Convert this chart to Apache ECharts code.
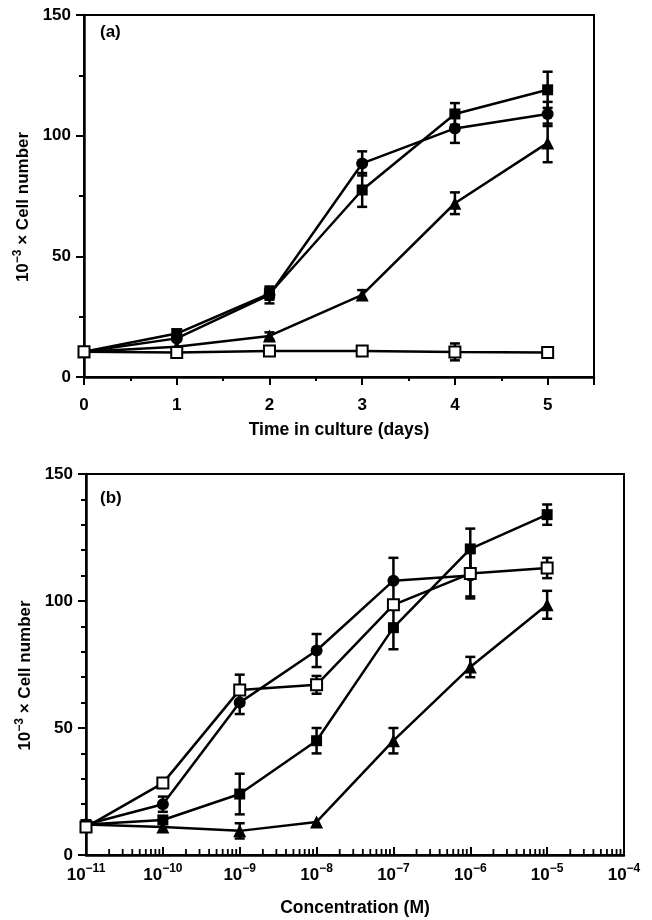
<!DOCTYPE html>
<html>
<head>
<meta charset="utf-8">
<script src="https://cdn.jsdelivr.net/npm/echarts@6/dist/echarts.min.js"></script>
<style>
html, body { margin: 0; padding: 0; background: #fff; }
#chart { width: 652px; height: 920px; }
</style>
</head>
<body>
<div id="chart"></div>
<script>
// panel (a): time course
var days = [0, 1, 2, 3, 4, 5];
var aFilledSquare = [10.5, 18, 34.5, 77.5, 109, 119];
var aFilledSquareErr = [0, 1, 2.5, 7, 4.5, 7.5];
var aCircle = [10.5, 16, 34, 88.5, 103, 109];
var aCircleErr = [0, 1, 3.5, 5, 6, 5];
var aTriangle = [10.5, 12.5, 17, 34, 72, 97];
var aTriangleErr = [0, 1, 1.5, 2, 4.5, 8];
var aOpenSquare = [10.5, 10.2, 10.8, 10.8, 10.4, 10.2];
var aOpenSquareErr = [0, 0.5, 0.5, 0.5, 3.5, 0.5];

// panel (b): dose response
var conc = [1e-11, 1e-10, 1e-9, 1e-8, 1e-7, 1e-6, 1e-5];
var bFilledSquare = [12, 13.8, 24, 45, 89.5, 120.5, 134];
var bFilledSquareErr = [0, 1, 8, 5, 8.5, 8, 4];
var bCircle = [12, 20, 60, 80.5, 108, 110];
var bCircleErr = [0, 3, 4.5, 6.5, 9, 9];
var bTriangle = [12, 11, 9.5, 13, 45, 74, 98.5];
var bTriangleErr = [0, 1, 3, 1, 5, 4, 5.5];
var bOpenSquare = [11, 28.3, 65, 67, 98.5, 110.8, 113];
var bOpenSquareErr = [0, 1, 6, 3.5, 1, 9, 4];

// log minor ticks 2..9 x 10^k
var logMinor = [];
for (var k = -11; k <= -5; k++) {
  for (var m = 2; m <= 9; m++) logMinor.push(m * Math.pow(10, k));
}

var FONT = "Liberation Sans";

function pairs(xs, ys) {
  return ys.map(function (y, i) { return [xs[i], y]; });
}
function errPairs(xs, ys, es) {
  return ys.map(function (y, i) { return [xs[i], y, es[i]]; });
}

function errRender(params, api) {
  var x = api.value(0), y = api.value(1), e = api.value(2);
  if (!e || e < 1.2) return;
  var top = api.coord([x, y + e]);
  var bot = api.coord([x, y - e]);
  var hw = 5;
  var st = { stroke: "#000", lineWidth: 2.5 };
  return {
    type: "group",
    children: [
      { type: "line", shape: { x1: top[0], y1: top[1], x2: bot[0], y2: bot[1] }, style: st },
      { type: "line", shape: { x1: top[0] - hw, y1: top[1], x2: top[0] + hw, y2: top[1] }, style: st },
      { type: "line", shape: { x1: bot[0] - hw, y1: bot[1], x2: bot[0] + hw, y2: bot[1] }, style: st }
    ]
  };
}

function minorRender(params, api) {
  var p = api.coord([api.value(0), 0]);
  return {
    type: "line",
    shape: { x1: p[0], y1: p[1], x2: p[0], y2: p[1] - 6 },
    style: { stroke: "#000", lineWidth: 1.8 }
  };
}

function lineSeries(xi, yi, data, symbol, size, open) {
  return {
    type: "line",
    xAxisIndex: xi,
    yAxisIndex: yi,
    data: data,
    symbol: symbol,
    symbolSize: size,
    showSymbol: true,
    z: open ? 4 : 3,
    lineStyle: { color: "#000", width: 2.5 },
    itemStyle: open
      ? { color: "#fff", borderColor: "#000", borderWidth: 2 }
      : { color: "#000" },
    emphasis: { disabled: true },
    animation: false
  };
}

function errSeries(xi, yi, data) {
  return {
    type: "custom",
    xAxisIndex: xi,
    yAxisIndex: yi,
    data: data,
    renderItem: errRender,
    z: 2,
    silent: true,
    animation: false
  };
}

var supRich = {
  b: { fontFamily: FONT, fontWeight: "bold", fontSize: 17, color: "#000", lineHeight: 24 },
  sup: { fontFamily: FONT, fontWeight: "bold", fontSize: 12, color: "#000", verticalAlign: "top", lineHeight: 12 }
};

var yName = "{b|10}{sup|\u22123}{b| \u00d7 Cell number}";
var yNameStyle = { rich: supRich, fontFamily: FONT, padding: [0, 22, 0, 0] };

var tickFont = { fontFamily: FONT, fontWeight: "bold", fontSize: 17, color: "#000" };
var titleFont = { fontFamily: FONT, fontWeight: "bold", fontSize: 17.5, color: "#000" };

var myChart = echarts.init(document.getElementById("chart"));
myChart.setOption({
  animation: false,
  backgroundColor: "#fff",
  grid: [
    { left: 84, right: 58, top: 15, bottom: 543, show: true, borderColor: "#000", borderWidth: 2, outerBoundsMode: "none" },
    { left: 86, right: 28, top: 474, bottom: 65, show: true, borderColor: "#000", borderWidth: 2, outerBoundsMode: "none" }
  ],
  graphic: [
    { type: "text", left: 100, top: 24, style: { text: "(a)", font: "bold 17px " + FONT, fill: "#000" } },
    { type: "text", left: 100, top: 490, style: { text: "(b)", font: "bold 17px " + FONT, fill: "#000" } }
  ],
  xAxis: [
    {
      gridIndex: 0, type: "value", min: 0, max: 5.5, interval: 1,
      name: "Time in culture (days)", nameLocation: "middle", nameGap: 44,
      nameTextStyle: titleFont,
      axisLine: { lineStyle: { color: "#000", width: 2.5 } },
      axisTick: { length: 8, lineStyle: { color: "#000", width: 2 } },
      minorTick: { show: false },
      splitLine: { show: false },
      axisLabel: Object.assign({
        margin: 20,
        formatter: function (v) { return v % 1 === 0 ? String(v) : ""; }
      }, tickFont)
    },
    {
      gridIndex: 0, type: "value", min: 0, max: 5.5, interval: 0.5,
      position: "bottom",
      axisLine: { show: false },
      axisTick: { length: 4, lineStyle: { color: "#000", width: 2 } },
      axisLabel: { show: false },
      splitLine: { show: false }
    },
    {
      gridIndex: 1, type: "log", logBase: 10, min: 1e-11, max: 1e-4, splitNumber: 7,
      name: "Concentration (M)", nameLocation: "middle", nameGap: 44,
      nameTextStyle: titleFont,
      axisLine: { lineStyle: { color: "#000", width: 2.5 } },
      axisTick: { inside: true, length: 8, lineStyle: { color: "#000", width: 2 } },
      splitLine: { show: false },
      axisLabel: {
        margin: 8, rich: supRich,
        formatter: function (v) {
          var e = Math.round(Math.log(v) / Math.LN10);
          return "{b|10}{sup|\u2212" + Math.abs(e) + "}";
        }
      }
    }
  ],
  yAxis: [
    {
      gridIndex: 0, type: "value", min: 0, max: 150, interval: 50,
      name: yName, nameLocation: "middle", nameGap: 45, nameRotate: 90,
      nameTextStyle: yNameStyle,
      axisLine: { lineStyle: { color: "#000", width: 2.5 } },
      axisTick: { length: 8, lineStyle: { color: "#000", width: 2 } },
      minorTick: { show: true, splitNumber: 2, length: 5, lineStyle: { color: "#000", width: 2 } },
      splitLine: { show: false },
      axisLabel: Object.assign({ margin: 13 }, tickFont)
    },
    {
      gridIndex: 1, type: "value", min: 0, max: 150, interval: 50,
      name: yName, nameLocation: "middle", nameGap: 47, nameRotate: 90,
      nameTextStyle: yNameStyle,
      axisLine: { lineStyle: { color: "#000", width: 2.5 } },
      axisTick: { length: 8, lineStyle: { color: "#000", width: 2 } },
      minorTick: { show: true, splitNumber: 5, length: 5, lineStyle: { color: "#000", width: 2 } },
      splitLine: { show: false },
      axisLabel: Object.assign({ margin: 13 }, tickFont)
    }
  ],
  series: [
    errSeries(0, 0, errPairs(days, aFilledSquare, aFilledSquareErr)),
    errSeries(0, 0, errPairs(days, aCircle, aCircleErr)),
    errSeries(0, 0, errPairs(days, aTriangle, aTriangleErr)),
    errSeries(0, 0, errPairs(days, aOpenSquare, aOpenSquareErr)),
    lineSeries(0, 0, pairs(days, aFilledSquare), "rect", 11, false),
    lineSeries(0, 0, pairs(days, aCircle), "circle", 12, false),
    lineSeries(0, 0, pairs(days, aTriangle), "triangle", 13, false),
    lineSeries(0, 0, pairs(days, aOpenSquare), "rect", 11, true),

    {
      type: "custom", xAxisIndex: 2, yAxisIndex: 1,
      data: logMinor.map(function (v) { return [v, 0]; }),
      renderItem: minorRender, z: 5, silent: true, animation: false
    },
    errSeries(2, 1, errPairs(conc, bFilledSquare, bFilledSquareErr)),
    errSeries(2, 1, errPairs(conc, bCircle, bCircleErr)),
    errSeries(2, 1, errPairs(conc, bTriangle, bTriangleErr)),
    errSeries(2, 1, errPairs(conc, bOpenSquare, bOpenSquareErr)),
    lineSeries(2, 1, pairs(conc, bFilledSquare), "rect", 11, false),
    lineSeries(2, 1, pairs(conc, bCircle), "circle", 12, false),
    lineSeries(2, 1, pairs(conc, bTriangle), "triangle", 13, false),
    lineSeries(2, 1, pairs(conc, bOpenSquare), "rect", 11, true)
  ]
});
</script>
</body>
</html>
